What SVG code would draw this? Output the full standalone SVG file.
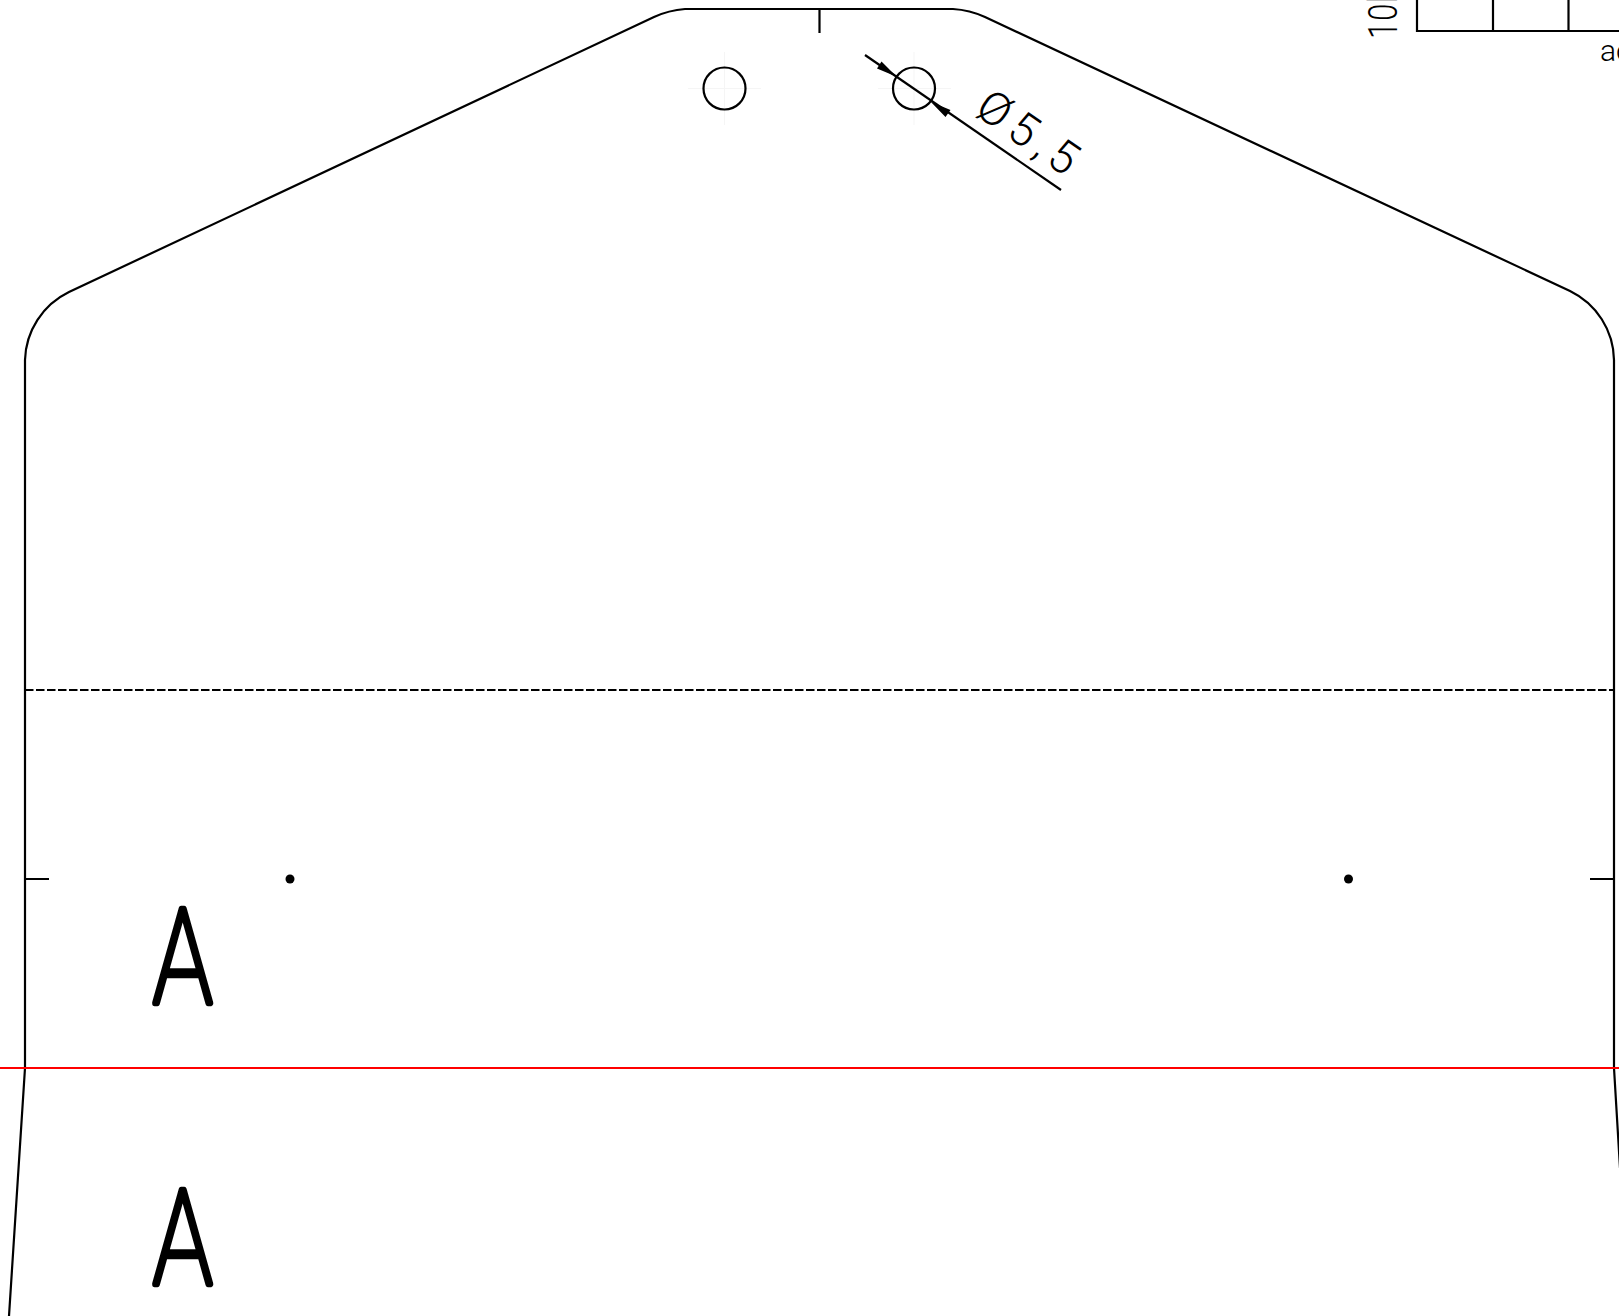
<svg xmlns="http://www.w3.org/2000/svg" width="1619" height="1316" viewBox="0 0 1619 1316">
<style>
.l{fill:none;stroke:#000;stroke-width:2.2}
.c{fill:none;stroke:#f5f5f5;stroke-width:1}
.t{font-family:"Roboto","Liberation Sans",sans-serif;font-weight:300;fill:#000}
.a{font-family:"Roboto","Liberation Sans",sans-serif;font-weight:100;font-size:131px;fill:#000;stroke:#000;stroke-width:6.500;stroke-linejoin:round}
</style>
<rect width="1619" height="1316" fill="#fff"/>
<g id="outline">
<path class="l" d="M25 1068V360A78 78 0 0 1 69 292L654 17A90 90 0 0 1 685 9H953A90 90 0 0 1 985 17L1570 291A78 78 0 0 1 1614 360V1068"/>
<path class="l" d="M25 1068L9 1316M1614 1068L1620 1168"/>
<path class="l" d="M25 690H1614" stroke-dasharray="8.500 2.500"/>
<path class="l" d="M819.500 9V33M25 879H49M1590 879H1614"/>
</g>
<g id="holes">
<path class="c" d="M688 88.500H761M724.500 52V125M878 88.500H951M914 52V125"/>
<circle class="l" cx="724.500" cy="88.500" r="21"/>
<circle class="l" cx="914" cy="88.500" r="21"/>
<circle cx="290" cy="879" r="4.500"/>
<circle cx="1348.500" cy="879" r="4.500"/>
</g>
<g id="dimension">
<path class="l" d="M865 55L1061 190"/>
<path d="M896.700 76.700L877 68.500L881.500 61.500Z M930.700 101.700L950.500 110L945.500 117Z"/>
<text class="t" font-size="46" letter-spacing="7" transform="translate(973 113.500) rotate(34.600)">Ø5,5</text>
</g>
<g id="label-a1"><text class="a" transform="translate(153 1002.500) scale(.76 1)">A</text></g>
<g id="label-a2"><text class="a" transform="translate(153 1283.500) scale(.76 1)">A</text></g>
<g id="fold"><path d="M0 1068H1619" fill="none" stroke="#f00" stroke-width="2"/></g>
<g id="grid">
<path class="l" d="M1417 0V31H1619M1493 0V31M1568.500 0V31"/>
<text class="t" font-size="41" letter-spacing="1.500" transform="translate(1397 39) rotate(-90) scale(.75 1)">10l</text>
<text class="t" font-size="30" x="1600" y="61">ac</text>
</g>
</svg>
